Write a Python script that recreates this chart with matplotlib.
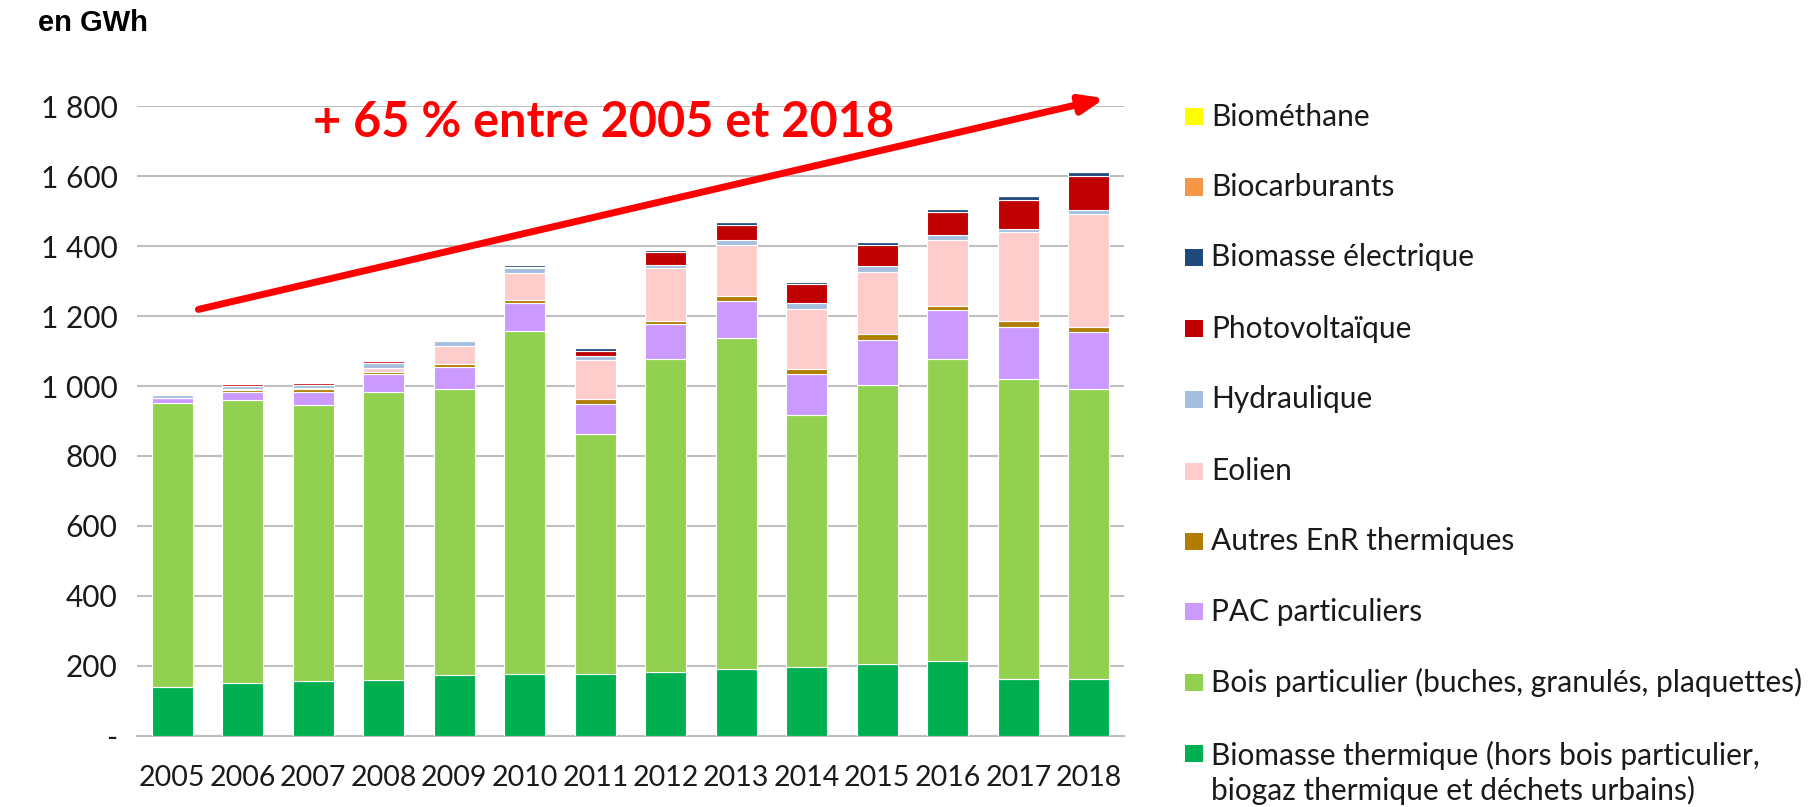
"""Production d'énergie renouvelable par filière, 2005-2018 (en GWh), barres empilées."""
import matplotlib
matplotlib.use("Agg")
import matplotlib.pyplot as plt
from matplotlib.patches import Rectangle
from matplotlib.ticker import FuncFormatter

years = [2005, 2006, 2007, 2008, 2009, 2010, 2011, 2012, 2013, 2014, 2015, 2016, 2017, 2018]

# valeurs, en GWh (empilées du bas vers le haut)
biomasse_thermique = [140, 152, 156, 159, 174, 177, 177, 181, 192, 195, 206, 213, 162, 163]
bois_particulier = [810, 809, 790, 824, 817, 981, 685, 897, 944, 722, 798, 865, 858, 828]
pac_particuliers = [15, 22, 37, 51, 64, 78, 87, 98, 106, 116, 129, 139, 150, 164]
autres_enr = [0, 7, 8, 7, 8, 10, 13, 11, 15, 15, 15, 12, 17, 15]
eolien = [0, 1, 2, 10, 52, 78, 112, 150, 146, 172, 179, 189, 253, 322]
hydraulique = [9, 10, 11, 15, 15, 13, 12, 10, 14, 16, 15, 15, 10, 10]
photovoltaique = [2, 4, 4, 5, 1, 4, 14, 37, 43, 55, 60, 64, 83, 98]
biomasse_elec = [0, 0, 0, 1, 3, 4, 8, 5, 10, 6, 9, 9, 9, 13]
biocarburants = [0] * 14
biomethane = [0] * 14

series = [
    ("Biomasse thermique (hors bois particulier,\nbiogaz thermique et déchets urbains)", biomasse_thermique, "#00B050"),
    ("Bois particulier (buches, granulés, plaquettes)", bois_particulier, "#92D050"),
    ("PAC particuliers", pac_particuliers, "#CC99FF"),
    ("Autres EnR thermiques", autres_enr, "#B07D00"),
    ("Eolien", eolien, "#FFCCCC"),
    ("Hydraulique", hydraulique, "#A6BFDF"),
    ("Photovoltaïque", photovoltaique, "#C00000"),
    ("Biomasse électrique", biomasse_elec, "#1F497D"),
    ("Biocarburants", biocarburants, "#F79646"),
    ("Biométhane", biomethane, "#FFFF00"),
]

plt.rcParams["font.family"] = ["Lato", "DejaVu Sans"]

fig = plt.figure(figsize=(18.10, 8.07), dpi=100)
ax = fig.add_axes([0.0757, 0.0884, 0.5453, 0.7799])

x = list(range(len(years)))
bottom = [0] * len(years)
for label, vals, color in series:
    ax.bar(x, vals, 0.58, bottom=bottom, color=color, edgecolor="white", linewidth=0.8, zorder=3)
    bottom = [b + v for b, v in zip(bottom, vals)]

ax.set_xlim(-0.5, len(years) - 0.5)
ax.set_ylim(0, 1800)
ax.set_yticks(range(0, 1801, 200))
ax.yaxis.set_major_formatter(FuncFormatter(lambda v, p: "-" if v == 0 else f"{int(v):,}".replace(",", " ")))
ax.set_xticks(x)
ax.set_xticklabels([str(y) for y in years])
ax.tick_params(axis="y", length=0, pad=14, labelsize=21.5, colors="#1a1a1a")
ax.tick_params(axis="x", length=0, pad=21, labelsize=20.5, colors="#1a1a1a")
ax.grid(axis="y", color="#BFBFBF", linewidth=1.5, zorder=0)
for s in ["top", "right", "left"]:
    ax.spines[s].set_visible(False)
ax.spines["bottom"].set_color("#BFBFBF")
ax.spines["bottom"].set_linewidth(1.5)

# flèche et texte d'évolution
ax.annotate("", xy=(13.23, 1823), xytext=(0.37, 1219), annotation_clip=False,
            arrowprops=dict(arrowstyle="-|>,head_length=1.4,head_width=0.55", color="#FF0000", lw=5,
                            shrinkA=0, shrinkB=0))
ax.text(6.12, 1712, "+ 65 % entre 2005 et 2018", color="#FF0000", fontsize=35, fontweight="bold",
        ha="center", va="baseline", zorder=5, clip_on=False)

fig.text(38 / 1810, 1 - 23 / 807, "en GWh", fontsize=21, fontweight="bold",
         family=["Liberation Sans", "DejaVu Sans"], ha="left", va="center")

# légende dessinée à la main (ordre inverse de l'empilement)
row_y = [116.6, 187, 257.4, 329, 399.4, 471, 541.4, 611.8, 682.2, 772.9]
W, H = 1810, 807
for (label, vals, color), yc in zip(series[::-1], row_y):
    sq_y = yc if "\n" not in label else 753.8
    fig.add_artist(Rectangle((1185 / W, 1 - (sq_y + 8.5) / H), 18 / W, 17 / H,
                             transform=fig.transFigure, facecolor=color, edgecolor="none"))
    fig.text(1211 / W, 1 - yc / H, label, fontsize=21.5, color="#1a1a1a", ha="left", va="center",
             linespacing=1.27)

fig.savefig("out.png", dpi=100)
